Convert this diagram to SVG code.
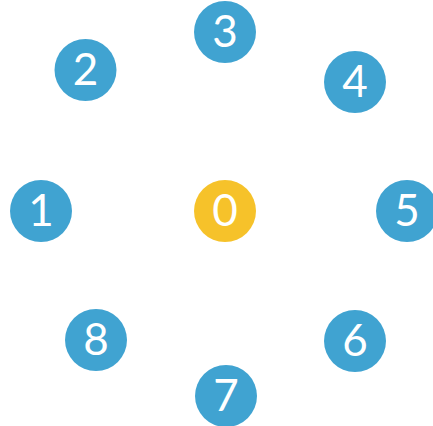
<svg xmlns="http://www.w3.org/2000/svg" width="433" height="426" viewBox="0 0 433 426">
<style>
.b{fill:#40A3D1}
.y{fill:#F6C22A}
text{font-family:Lato,"Liberation Sans",sans-serif;font-size:44px;font-weight:400;fill:#fff;text-anchor:middle}
</style>
<rect width="433" height="426" fill="#fff"/>
<g id="connectors"></g>
<g id="n0"><circle class="y" cx="225" cy="211" r="31"/><text x="225" y="226">0</text></g>
<g id="n1"><circle class="b" cx="41" cy="211" r="31"/><text x="41" y="226">1</text></g>
<g id="n2"><circle class="b" cx="85.5" cy="70" r="31"/><text x="85.5" y="85">2</text></g>
<g id="n3"><circle class="b" cx="225" cy="32" r="31"/><text x="225" y="47">3</text></g>
<g id="n4"><circle class="b" cx="355" cy="82" r="31"/><text x="355" y="97">4</text></g>
<g id="n5"><circle class="b" cx="407" cy="211" r="31"/><text x="407" y="226">5</text></g>
<g id="n6"><circle class="b" cx="355" cy="341" r="31"/><text x="355" y="356">6</text></g>
<g id="n7"><circle class="b" cx="226" cy="396" r="31"/><text x="226" y="411">7</text></g>
<g id="n8"><circle class="b" cx="96" cy="340" r="31"/><text x="96" y="355">8</text></g>
</svg>
